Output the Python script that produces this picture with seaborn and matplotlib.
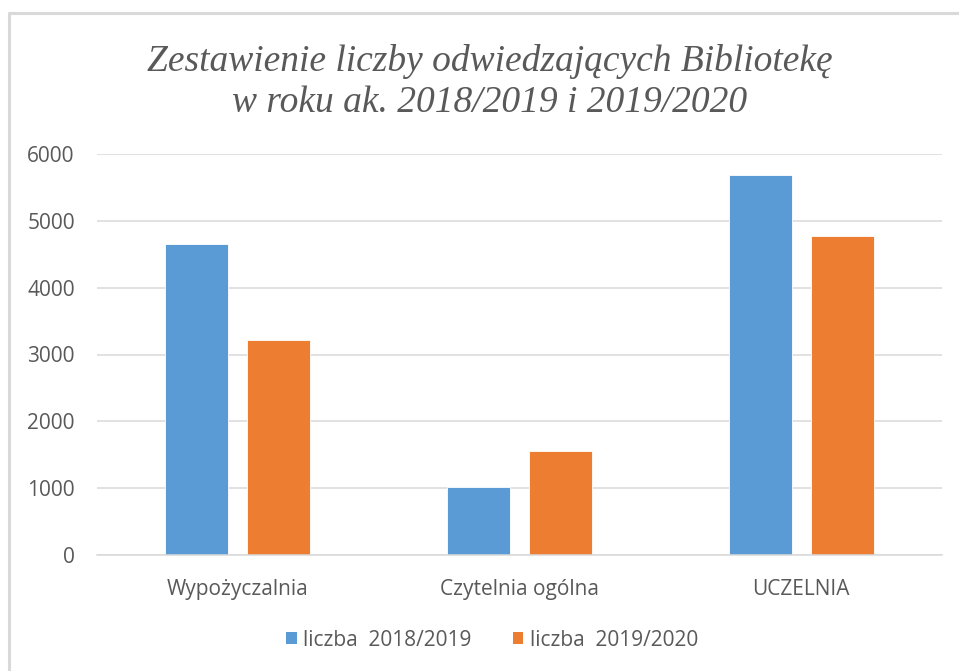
import pandas as pd
import seaborn as sns
import matplotlib.pyplot as plt
from matplotlib.patches import Patch
from matplotlib.lines import Line2D

# data
categories = ["Wypożyczalnia", "Czytelnia ogólna", "UCZELNIA"]
series_names = ["liczba  2018/2019", "liczba  2019/2020"]
values_2018 = [4650, 1010, 5690]
values_2019 = [3220, 1550, 4770]
y_ticks = [0, 1000, 2000, 3000, 4000, 5000, 6000]

title = "Zestawienie liczby odwiedzających Bibliotekę\nw roku ak. 2018/2019 i 2019/2020"
colors = ["#5B9BD5", "#ED7D31"]
text_gray = "#595959"
grid_gray = "#D9D9D9"

df = pd.DataFrame({
    "kategoria": categories * 2,
    "seria": [series_names[0]] * 3 + [series_names[1]] * 3,
    "liczba": values_2018 + values_2019,
})

sns.set_theme(style="white")
plt.rcParams["font.family"] = ["Open Sans", "DejaVu Sans"]

fig = plt.figure(figsize=(9.59, 6.71), dpi=100)
ax = fig.add_axes([97 / 959, 116 / 671, 845 / 959, 401 / 671])

sns.barplot(data=df, x="kategoria", y="liczba", hue="seria", palette=colors,
            width=0.583, gap=0.233, ax=ax, legend=False,
            edgecolor="white", linewidth=0.6, saturation=1)

ax.set_xlim(-0.5, 2.5)
ax.set_ylim(0, 6000)
ax.set_yticks(y_ticks)
ax.set_yticklabels([str(t) for t in y_ticks])
ax.set_xlabel("")
ax.set_ylabel("")

# light horizontal gridlines like the spreadsheet chart
ax.yaxis.grid(True, color=grid_gray, linewidth=1.1)
ax.set_axisbelow(True)
for side in ["top", "right", "left"]:
    ax.spines[side].set_visible(False)
ax.spines["bottom"].set_color(grid_gray)
ax.spines["bottom"].set_linewidth(1.1)

ax.tick_params(axis="y", length=0, pad=16, labelsize=15, labelcolor=text_gray)
ax.tick_params(axis="x", length=0, pad=17, labelsize=15, labelcolor=text_gray)

fig.text(490 / 959, 1 - 82 / 671, title, ha="center", va="center",
         fontsize=27, style="italic", color=text_gray,
         family=["Liberation Serif", "DejaVu Serif"], linespacing=1.25)

handles = [Patch(facecolor=c, edgecolor="none") for c in colors]
fig.legend(handles, series_names, loc="center", bbox_to_anchor=(492 / 959, 1 - 640 / 671),
           ncol=2, frameon=False, fontsize=15, labelcolor=text_gray,
           handlelength=0.5, handleheight=0.5, handletextpad=0.3, columnspacing=2.0)

# thin grey chart border (left and top edges are visible in the screenshot)
fig.add_artist(Line2D([9 / 959, 9 / 959], [0, 1 - 13 / 671], color=grid_gray, linewidth=2.2))
fig.add_artist(Line2D([9 / 959, 1], [1 - 13 / 671, 1 - 13 / 671], color=grid_gray, linewidth=2.2))

fig.savefig("out.png", dpi=100)
